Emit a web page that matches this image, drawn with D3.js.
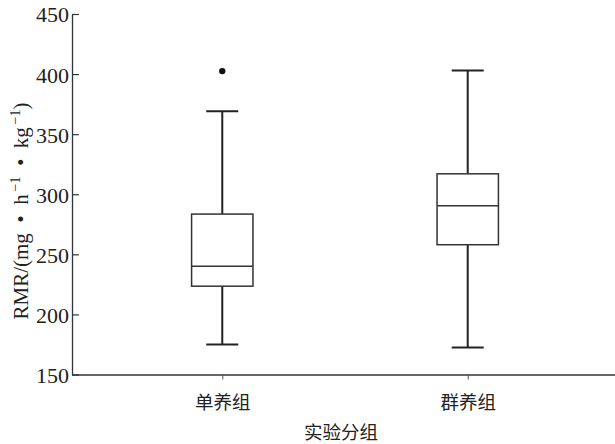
<!DOCTYPE html>
<html>
<head>
<meta charset="utf-8">
<script src="https://cdn.jsdelivr.net/npm/d3@7"></script>
<style>
  body { margin: 0; background: #fff; }
  text { fill: #222; }
</style>
</head>
<body>
<script>
// data
var groups = ["单养组", "群养组"];
var whiskerLow = [175, 172.5];
var q1 = [223.5, 258];
var medians = [240, 290.5];
var q3 = [283.5, 317];
var whiskerHigh = [369, 403];
var outliers = [{ group: "单养组", value: 402.5 }];
var yTicks = [150, 200, 250, 300, 350, 400, 450];

var w = 615, h = 444;

var svg = d3.select("body").append("svg")
    .attr("width", w)
    .attr("height", h);

// scales
var x = d3.scalePoint()
    .domain(groups)
    .range([75, 615])
    .padding(0.6);

var y = d3.scaleLinear()
    .domain([150, 450])
    .range([374.5, 14]);

var boxW = x.step() * 0.25, capW = 32;

// y axis, ticks point inward
var yAxis = svg.append("g")
    .attr("transform", "translate(72,0)")
    .call(d3.axisRight(y).tickValues(yTicks).tickSize(7).tickSizeOuter(0).tickFormat(d3.format("d")));
yAxis.select(".domain").attr("stroke", "#333").attr("stroke-width", 1.3);
yAxis.selectAll(".tick line").attr("stroke", "#333").attr("stroke-width", 1.2);
yAxis.selectAll(".tick text")
    .attr("x", -3)
    .attr("dy", "0.36em")
    .attr("text-anchor", "end")
    .style("font-family", "'Liberation Serif', 'DejaVu Serif', serif")
    .style("font-size", "22px")
    .style("fill", "#222");

// x axis
var xAxis = svg.append("g")
    .attr("transform", "translate(0," + y(150) + ")")
    .call(d3.axisBottom(x).tickSize(5).tickSizeOuter(0));
xAxis.select(".domain").attr("d", "M72,0.5H615").attr("stroke", "#333").attr("stroke-width", 1.3);
xAxis.selectAll(".tick line").attr("stroke", "#555").attr("stroke-width", 1);
xAxis.selectAll(".tick text")
    .attr("y", 28)
    .attr("dy", "0.35em")
    .style("font-family", "'Noto Sans CJK SC', sans-serif")
    .style("font-size", "18.5px")
    .style("fill", "#222");

// boxes
var boxes = svg.selectAll(".box")
    .data(groups)
    .enter()
    .append("g")
    .attr("class", "box");

// whiskers
boxes.append("line")
    .attr("x1", function (d) { return x(d); })
    .attr("x2", function (d) { return x(d); })
    .attr("y1", function (d, i) { return y(whiskerLow[i]); })
    .attr("y2", function (d, i) { return y(q1[i]); })
    .attr("stroke", "#222").attr("stroke-width", 2);
boxes.append("line")
    .attr("x1", function (d) { return x(d); })
    .attr("x2", function (d) { return x(d); })
    .attr("y1", function (d, i) { return y(q3[i]); })
    .attr("y2", function (d, i) { return y(whiskerHigh[i]); })
    .attr("stroke", "#222").attr("stroke-width", 2);

// caps
[whiskerLow, whiskerHigh].forEach(function (arr) {
    boxes.append("line")
        .attr("x1", function (d) { return x(d) - capW / 2; })
        .attr("x2", function (d) { return x(d) + capW / 2; })
        .attr("y1", function (d, i) { return y(arr[i]); })
        .attr("y2", function (d, i) { return y(arr[i]); })
        .attr("stroke", "#222").attr("stroke-width", 2);
});

// box body
boxes.append("rect")
    .attr("x", function (d) { return x(d) - boxW / 2; })
    .attr("y", function (d, i) { return y(q3[i]); })
    .attr("width", boxW)
    .attr("height", function (d, i) { return y(q1[i]) - y(q3[i]); })
    .attr("fill", "#fff")
    .attr("stroke", "#333")
    .attr("stroke-width", 1.5);

// median
boxes.append("line")
    .attr("x1", function (d) { return x(d) - boxW / 2; })
    .attr("x2", function (d) { return x(d) + boxW / 2; })
    .attr("y1", function (d, i) { return y(medians[i]); })
    .attr("y2", function (d, i) { return y(medians[i]); })
    .attr("stroke", "#333").attr("stroke-width", 1.5);

// outliers
svg.selectAll(".outlier")
    .data(outliers)
    .enter()
    .append("circle")
    .attr("class", "outlier")
    .attr("cx", function (d) { return x(d.group); })
    .attr("cy", function (d) { return y(d.value); })
    .attr("r", 3.2)
    .attr("fill", "#111");

// axis titles
svg.append("text")
    .attr("x", 341)
    .attr("y", 433)
    .attr("dy", "0.35em")
    .attr("text-anchor", "middle")
    .style("font-family", "'Noto Sans CJK SC', sans-serif")
    .style("font-size", "18.5px")
    .text("实验分组");

var yTitle = svg.append("text")
    .attr("transform", "translate(28,211) rotate(-90)")
    .attr("text-anchor", "middle")
    .style("font-family", "'Liberation Serif', 'DejaVu Serif', serif")
    .style("font-size", "21px");
yTitle.append("tspan").text("RMR/(mg\u2002•\u2002h");
yTitle.append("tspan").attr("dy", -8).style("font-size", "14px").text("\u2009−1");
yTitle.append("tspan").attr("dy", 8).text("\u2002•\u2002kg");
yTitle.append("tspan").attr("dy", -8).style("font-size", "14px").text("\u2009−1");
yTitle.append("tspan").attr("dy", 8).text(")");
</script>
</body>
</html>
